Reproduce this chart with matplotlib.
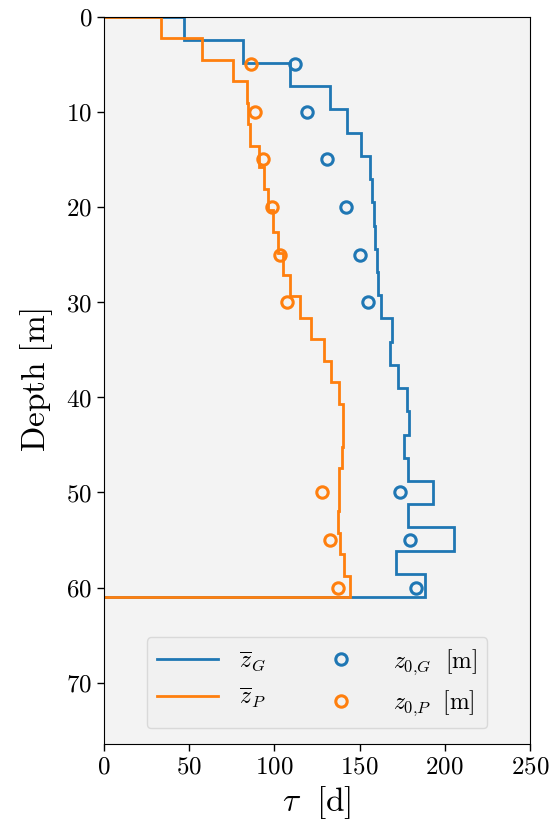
import numpy as np
import matplotlib
matplotlib.use("Agg")
import matplotlib.pyplot as plt
from matplotlib.ticker import FuncFormatter, MultipleLocator
from matplotlib.lines import Line2D

plt.rcParams['mathtext.fontset'] = 'cm'
plt.rcParams['font.family'] = ['DejaVu Serif']

# --- data -------------------------------------------------------------
total_depth = 61.0
n_layers_G = 25
n_layers_P = 27

tau_G = [47.0, 81.5, 109.3, 132.6, 142.4, 150.6, 156.3, 157.6, 158.6, 158.8,
         160.0, 161.1, 162.5, 169.3, 167.8, 172.7, 177.6, 178.8, 176.2, 178.3,
         193.3, 178.6, 205.4, 171.4, 188.6]
tau_P = [33.4, 57.7, 75.5, 84.0, 84.5, 85.7, 91.0, 93.8, 96.0, 99.0,
         102.3, 105.3, 108.9, 115.0, 121.5, 129.3, 133.0, 138.1, 140.4, 140.2,
         139.5, 138.2, 138.0, 137.1, 138.7, 141.0, 144.6]

z0_depths = [5, 10, 15, 20, 25, 30, 50, 55, 60]
z0_G = [112.1, 119.3, 130.7, 142.0, 150.2, 154.7, 173.7, 179.6, 183.1]
z0_P = [86.3, 88.4, 93.5, 98.8, 103.3, 107.6, 128.1, 132.4, 137.1]

edges_G = np.linspace(0, total_depth, n_layers_G + 1)
edges_P = np.linspace(0, total_depth, n_layers_P + 1)

blue = '#1f77b4'
orange = '#ff7f0e'

fig = plt.figure(figsize=(5.6, 8.3), dpi=100)
ax = fig.add_axes([0.186, 0.104, 0.760, 0.876])
ax.set_facecolor('#f3f3f3')

ax.stairs(tau_G, edges_G, orientation='horizontal', baseline=0,
          color=blue, lw=2.0)
ax.stairs(tau_P, edges_P, orientation='horizontal', baseline=0,
          color=orange, lw=2.0)
ms = 8.2
ax.plot(z0_G, z0_depths, 'o', mfc='none', mec=blue, mew=2.2, ms=ms)
ax.plot(z0_P, z0_depths, 'o', mfc='none', mec=orange, mew=2.2, ms=ms)

ax.set_xlim(0, 250)
ax.set_ylim(76.4, 0)
ax.xaxis.set_major_locator(MultipleLocator(50))
ax.yaxis.set_major_locator(MultipleLocator(10))
fmt = FuncFormatter(lambda v, p: r'$%d$' % int(round(v)))
ax.xaxis.set_major_formatter(fmt)
ax.yaxis.set_major_formatter(fmt)
ax.tick_params(labelsize=18, length=5, width=1.0)

ax.set_xlabel(r'$\tau\ \ [\mathrm{d}]$', fontsize=24, labelpad=4)
ax.set_ylabel(r'$\mathrm{Depth\ [m]}$', fontsize=24, labelpad=8)

handles = [Line2D([], [], color=blue, lw=2.0),
           Line2D([], [], color=orange, lw=2.0),
           Line2D([], [], ls='none', marker='o', mfc='none', mec=blue, mew=2.2, ms=ms),
           Line2D([], [], ls='none', marker='o', mfc='none', mec=orange, mew=2.2, ms=ms)]
labels = [r'$\overline{z}_G$', r'$\overline{z}_P$',
          r'$z_{0{,}G}\ \ [\mathrm{m}]$', r'$z_{0{,}P}\ \ [\mathrm{m}]$']
leg = ax.legend(handles, labels, ncol=2, loc='lower center',
                bbox_to_anchor=(0.5, 0.005), fontsize=17,
                handlelength=2.6, handletextpad=0.9, columnspacing=1.9,
                facecolor='#f1f1f1', edgecolor='#d9d9d9', framealpha=1.0,
                borderpad=0.42, labelspacing=0.5)

fig.savefig('out.png', dpi=100)
